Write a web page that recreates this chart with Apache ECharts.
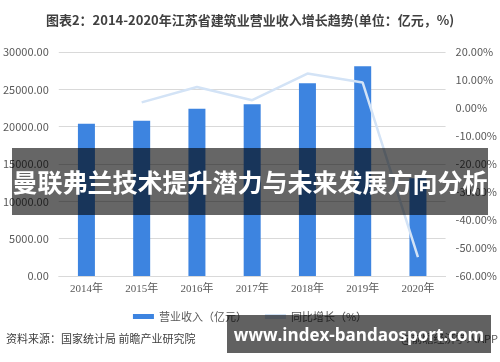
<!DOCTYPE html>
<html>
<head>
<meta charset="utf-8">
<script src="https://cdn.jsdelivr.net/npm/echarts@6/dist/echarts.min.js"></script>
<style>
html,body{margin:0;padding:0;background:#fff;}
#c{width:500px;height:362px;}
</style>
</head>
<body>
<div id="c"></div>
<script>
const categories = ['2014年','2015年','2016年','2017年','2018年','2019年','2020年'];
const revenue = [20400, 20800, 22400, 23000, 25800, 28100, 13100];
const growth = [null, 2.0, 7.5, 2.8, 12.3, 9.1, -53.3];
const leftTicks = {min: 0, max: 30000, interval: 5000};
const rightTicks = {min: -60, max: 20, interval: 10};
const titleText = '图表2：2014-2020年江苏省建筑业营业收入增长趋势(单位：亿元，%)';
const sourceText = '资料来源：国家统计局 前瞻产业研究院';
const brandText = '@前瞻经济学人APP';
const bannerText = '曼联弗兰技术提升潜力与未来发展方向分析';
const urlText = 'www.index-bandaosport.com';

const chart = echarts.init(document.getElementById('c'), null, {renderer: 'canvas'});
const sans = '"Noto Sans CJK SC", "Noto Sans", sans-serif';
chart.setOption({
  animation: false,
  textStyle: {fontFamily: sans},
  title: {
    text: titleText, left: 'center', top: 9,
    textStyle: {fontSize: 13, fontWeight: 'bold', color: '#404040', fontFamily: sans}
  },
  grid: {left: 57, right: 52, top: 52, bottom: 86},
  legend: {
    left: 'center', top: 306, itemWidth: 21, itemHeight: 5, itemGap: 18,
    icon: 'rect',
    textStyle: {fontSize: 11, color: '#595959', fontFamily: sans},
    data: ['营业收入（亿元）', '同比增长（%）']
  },
  xAxis: {
    type: 'category', data: categories,
    axisLine: {lineStyle: {color: '#d9d9d9'}},
    axisTick: {show: false},
    axisLabel: {fontSize: 11, color: '#595959', margin: 8, fontFamily: '"Liberation Serif", "Noto Sans CJK SC", serif'}
  },
  yAxis: [{
    type: 'value', min: leftTicks.min, max: leftTicks.max, interval: leftTicks.interval,
    axisLine: {show: false}, axisTick: {show: false},
    splitLine: {lineStyle: {color: '#d9d9d9'}},
    axisLabel: {fontSize: 11, color: '#595959', margin: 10, formatter: v => v.toFixed(2)}
  }, {
    type: 'value', min: rightTicks.min, max: rightTicks.max, interval: rightTicks.interval,
    axisLine: {show: false}, axisTick: {show: false},
    splitLine: {show: false},
    axisLabel: {fontSize: 11, color: '#595959', margin: 10, formatter: v => v.toFixed(2) + '%'}
  }],
  series: [{
    name: '营业收入（亿元）', type: 'bar', data: revenue, barWidth: 17,
    itemStyle: {color: '#3d84e0'}
  }, {
    name: '同比增长（%）', type: 'line', yAxisIndex: 1, data: growth,
    showSymbol: false, symbol: 'none',
    lineStyle: {color: '#d3e3f6', width: 2.5},
    itemStyle: {color: '#d3e3f6'}
  }],
  graphic: [
    {type: 'text', left: 6, top: 333, style: {text: sourceText, fontSize: 11, fill: '#404040', fontFamily: sans}},
    {type: 'text', right: 2, top: 333, style: {text: brandText, fontSize: 11, fill: '#595959', fontFamily: sans}},
    {type: 'rect', shape: {x: 12, y: 148, width: 476, height: 67}, style: {fill: 'rgba(0,0,0,0.6)'}, z: 100},
    {type: 'text', x: 250, y: 182, z: 101, style: {text: bannerText, fontSize: 25, fontWeight: 'bold', fill: '#fff', align: 'center', verticalAlign: 'middle', fontFamily: sans}},
    {type: 'rect', shape: {x: 227, y: 315, width: 264, height: 38}, style: {fill: 'rgba(0,0,0,0.62)'}, z: 100},
    {type: 'text', x: 359, y: 336, z: 101, style: {text: urlText, fontSize: 17, fontWeight: 'bold', fill: '#fff', align: 'center', verticalAlign: 'middle', fontFamily: '"Open Sans", "DejaVu Sans", sans-serif'}}
  ]
});
</script>
</body>
</html>
